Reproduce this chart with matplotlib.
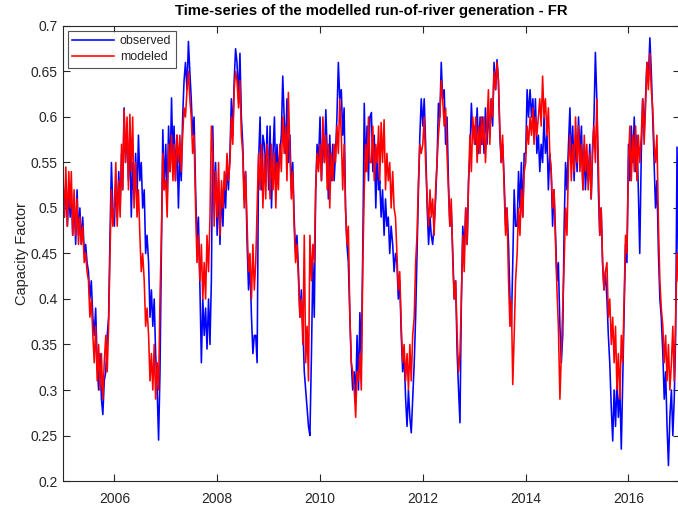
import datetime as dt

import matplotlib
matplotlib.use("Agg")
import matplotlib.pyplot as plt
import matplotlib.dates as mdates
from matplotlib.ticker import FuncFormatter, MultipleLocator

# capacity factor, three samples a month (1st, 11th, 21st)
first_year = 2005
observed = [
    [0.51, 0.49, 0.53, 0.48, 0.52, 0.49, 0.52, 0.47, 0.51, 0.46, 0.52, 0.47, 0.50, 0.46, 0.49, 0.45, 0.46, 0.44,
     0.43, 0.40, 0.42, 0.38, 0.36, 0.39, 0.33, 0.30, 0.34, 0.29, 0.273, 0.31, 0.32, 0.36, 0.38, 0.47, 0.55, 0.50],
    [0.48, 0.53, 0.49, 0.54, 0.50, 0.56, 0.52, 0.61, 0.55, 0.59, 0.53, 0.58, 0.49, 0.55, 0.51, 0.56, 0.51, 0.58,
     0.53, 0.55, 0.50, 0.52, 0.45, 0.47, 0.44, 0.38, 0.41, 0.37, 0.40, 0.34, 0.30, 0.245, 0.32, 0.45, 0.586, 0.52],
    [0.57, 0.51, 0.59, 0.54, 0.621, 0.55, 0.59, 0.53, 0.58, 0.50, 0.56, 0.53, 0.60, 0.64, 0.66, 0.63, 0.683, 0.65,
     0.62, 0.58, 0.60, 0.52, 0.46, 0.49, 0.41, 0.33, 0.40, 0.36, 0.39, 0.345, 0.40, 0.35, 0.42, 0.59, 0.50, 0.55],
    [0.47, 0.53, 0.46, 0.52, 0.48, 0.53, 0.50, 0.55, 0.52, 0.56, 0.62, 0.58, 0.64, 0.675, 0.66, 0.62, 0.67, 0.60,
     0.57, 0.51, 0.54, 0.46, 0.41, 0.44, 0.38, 0.34, 0.36, 0.36, 0.33, 0.55, 0.60, 0.52, 0.58, 0.57, 0.53, 0.59],
    [0.52, 0.59, 0.50, 0.56, 0.60, 0.52, 0.57, 0.54, 0.56, 0.58, 0.645, 0.60, 0.56, 0.62, 0.55, 0.58, 0.52, 0.55,
     0.49, 0.45, 0.47, 0.43, 0.38, 0.41, 0.37, 0.32, 0.30, 0.28, 0.26, 0.25, 0.34, 0.44, 0.38, 0.52, 0.57, 0.55],
    [0.60, 0.53, 0.58, 0.55, 0.608, 0.56, 0.51, 0.58, 0.53, 0.57, 0.53, 0.56, 0.60, 0.66, 0.62, 0.63, 0.58, 0.61,
     0.50, 0.46, 0.44, 0.38, 0.33, 0.30, 0.32, 0.29, 0.36, 0.30, 0.385, 0.33, 0.46, 0.615, 0.54, 0.59, 0.53, 0.60],
    [0.605, 0.54, 0.58, 0.50, 0.56, 0.52, 0.53, 0.49, 0.52, 0.47, 0.51, 0.48, 0.49, 0.45, 0.48, 0.46, 0.43, 0.45,
     0.44, 0.40, 0.42, 0.36, 0.32, 0.34, 0.29, 0.26, 0.30, 0.27, 0.253, 0.29, 0.33, 0.38, 0.45, 0.52, 0.58, 0.62],
    [0.59, 0.62, 0.57, 0.50, 0.46, 0.49, 0.47, 0.46, 0.48, 0.51, 0.55, 0.615, 0.60, 0.66, 0.62, 0.63, 0.57, 0.60,
     0.53, 0.48, 0.50, 0.45, 0.40, 0.42, 0.34, 0.30, 0.264, 0.40, 0.48, 0.45, 0.50, 0.46, 0.53, 0.56, 0.615, 0.58],
    [0.59, 0.57, 0.61, 0.56, 0.60, 0.57, 0.60, 0.56, 0.61, 0.57, 0.608, 0.58, 0.62, 0.59, 0.66, 0.63, 0.663, 0.64,
     0.58, 0.55, 0.57, 0.53, 0.48, 0.50, 0.46, 0.40, 0.37, 0.44, 0.52, 0.48, 0.48, 0.54, 0.50, 0.55, 0.49, 0.56],
    [0.56, 0.63, 0.60, 0.63, 0.60, 0.62, 0.58, 0.62, 0.56, 0.58, 0.54, 0.57, 0.55, 0.60, 0.56, 0.58, 0.52, 0.56,
     0.54, 0.48, 0.52, 0.47, 0.42, 0.44, 0.37, 0.33, 0.36, 0.48, 0.55, 0.52, 0.57, 0.61, 0.55, 0.59, 0.53, 0.58],
    [0.54, 0.60, 0.56, 0.59, 0.52, 0.57, 0.52, 0.55, 0.53, 0.57, 0.51, 0.56, 0.60, 0.671, 0.62, 0.52, 0.47, 0.50,
     0.44, 0.41, 0.43, 0.40, 0.36, 0.33, 0.28, 0.244, 0.30, 0.26, 0.31, 0.27, 0.30, 0.235, 0.31, 0.38, 0.46, 0.44],
    [0.57, 0.53, 0.59, 0.55, 0.60, 0.54, 0.58, 0.52, 0.45, 0.56, 0.62, 0.58, 0.62, 0.66, 0.64, 0.687, 0.65, 0.60,
     0.55, 0.50, 0.53, 0.45, 0.40, 0.38, 0.34, 0.29, 0.32, 0.26, 0.217, 0.27, 0.30, 0.25, 0.29, 0.36, 0.567, 0.42],
]
modeled = [
    [0.53, 0.49, 0.545, 0.48, 0.54, 0.50, 0.54, 0.47, 0.52, 0.47, 0.51, 0.46, 0.49, 0.46, 0.48, 0.44, 0.45, 0.43,
     0.42, 0.38, 0.40, 0.36, 0.33, 0.37, 0.31, 0.35, 0.30, 0.34, 0.29, 0.33, 0.36, 0.32, 0.37, 0.45, 0.52, 0.48],
    [0.50, 0.55, 0.48, 0.53, 0.49, 0.57, 0.52, 0.608, 0.55, 0.60, 0.52, 0.603, 0.54, 0.60, 0.50, 0.55, 0.49, 0.52,
     0.47, 0.43, 0.45, 0.42, 0.37, 0.39, 0.36, 0.31, 0.34, 0.30, 0.35, 0.29, 0.33, 0.30, 0.40, 0.47, 0.56, 0.52],
    [0.53, 0.49, 0.57, 0.54, 0.58, 0.53, 0.57, 0.53, 0.58, 0.55, 0.58, 0.54, 0.58, 0.61, 0.60, 0.63, 0.65, 0.62,
     0.60, 0.56, 0.58, 0.50, 0.44, 0.47, 0.42, 0.46, 0.40, 0.44, 0.40, 0.47, 0.43, 0.49, 0.59, 0.56, 0.48, 0.54],
    [0.49, 0.55, 0.47, 0.53, 0.50, 0.54, 0.52, 0.56, 0.53, 0.55, 0.60, 0.57, 0.63, 0.65, 0.64, 0.61, 0.64, 0.58,
     0.56, 0.50, 0.54, 0.48, 0.43, 0.45, 0.40, 0.46, 0.41, 0.44, 0.50, 0.56, 0.52, 0.57, 0.50, 0.56, 0.51, 0.57],
    [0.55, 0.51, 0.57, 0.52, 0.56, 0.50, 0.55, 0.52, 0.57, 0.54, 0.60, 0.56, 0.59, 0.53, 0.627, 0.56, 0.51, 0.54,
     0.48, 0.44, 0.46, 0.42, 0.38, 0.40, 0.35, 0.47, 0.33, 0.37, 0.31, 0.47, 0.42, 0.46, 0.44, 0.52, 0.56, 0.54],
    [0.57, 0.53, 0.60, 0.55, 0.58, 0.52, 0.57, 0.50, 0.56, 0.53, 0.57, 0.55, 0.59, 0.56, 0.62, 0.58, 0.52, 0.57,
     0.50, 0.46, 0.48, 0.38, 0.33, 0.32, 0.30, 0.27, 0.32, 0.31, 0.34, 0.30, 0.44, 0.52, 0.57, 0.54, 0.60, 0.55],
    [0.55, 0.59, 0.53, 0.57, 0.55, 0.59, 0.53, 0.594, 0.55, 0.597, 0.52, 0.56, 0.53, 0.55, 0.50, 0.54, 0.50, 0.49,
     0.45, 0.41, 0.43, 0.37, 0.33, 0.35, 0.31, 0.34, 0.30, 0.35, 0.31, 0.36, 0.38, 0.44, 0.47, 0.53, 0.57, 0.56],
    [0.57, 0.60, 0.55, 0.51, 0.48, 0.52, 0.49, 0.51, 0.47, 0.52, 0.55, 0.58, 0.60, 0.64, 0.62, 0.59, 0.61, 0.56,
     0.52, 0.48, 0.51, 0.44, 0.40, 0.42, 0.36, 0.32, 0.34, 0.40, 0.47, 0.43, 0.50, 0.46, 0.53, 0.58, 0.54, 0.60],
    [0.57, 0.60, 0.55, 0.59, 0.56, 0.60, 0.57, 0.60, 0.55, 0.59, 0.63, 0.57, 0.62, 0.60, 0.65, 0.63, 0.66, 0.64,
     0.59, 0.55, 0.58, 0.52, 0.47, 0.50, 0.42, 0.37, 0.40, 0.306, 0.36, 0.42, 0.45, 0.50, 0.47, 0.52, 0.49, 0.54],
    [0.55, 0.59, 0.57, 0.60, 0.58, 0.61, 0.57, 0.60, 0.58, 0.60, 0.62, 0.59, 0.645, 0.60, 0.62, 0.58, 0.61, 0.56,
     0.54, 0.50, 0.52, 0.46, 0.41, 0.37, 0.29, 0.34, 0.39, 0.44, 0.50, 0.47, 0.55, 0.58, 0.53, 0.57, 0.54, 0.60],
    [0.55, 0.59, 0.54, 0.57, 0.52, 0.58, 0.54, 0.57, 0.52, 0.56, 0.51, 0.57, 0.59, 0.55, 0.62, 0.55, 0.47, 0.50,
     0.44, 0.41, 0.43, 0.44, 0.38, 0.40, 0.35, 0.38, 0.33, 0.37, 0.30, 0.34, 0.29, 0.36, 0.33, 0.40, 0.47, 0.45],
    [0.55, 0.59, 0.53, 0.58, 0.54, 0.59, 0.53, 0.58, 0.55, 0.58, 0.62, 0.57, 0.61, 0.66, 0.63, 0.67, 0.63, 0.61,
     0.57, 0.55, 0.58, 0.48, 0.42, 0.39, 0.37, 0.33, 0.36, 0.31, 0.35, 0.30, 0.33, 0.37, 0.31, 0.38, 0.45, 0.42],
]


def to_series(rows, start_year):
    """Flatten yearly rows into (dates, values), samples on days 1, 11, 21 of each month."""
    dates, vals = [], []
    for k, row in enumerate(rows):
        for i, v in enumerate(row):
            dates.append(dt.date(start_year + k, i // 3 + 1, 1 + 10 * (i % 3)))
            vals.append(v)
    return dates, vals


plt.rcParams["font.family"] = ["Liberation Sans", "DejaVu Sans"]
dark = "#262626"

fig = plt.figure(figsize=(6.78, 5.11), dpi=100)
ax = fig.add_axes([63 / 678, 1 - 481 / 511, 617 / 678, 455 / 511])

d_obs, v_obs = to_series(observed, first_year)
d_mod, v_mod = to_series(modeled, first_year)
ax.plot(d_obs, v_obs, color="#0000ff", lw=1.15, label="observed")
ax.plot(d_mod, v_mod, color="#ff0000", lw=1.15, label="modeled")

ax.set_xlim(dt.date(2005, 1, 1), dt.date(2017, 1, 1))
ax.set_ylim(0.2, 0.7)
ax.xaxis.set_major_locator(mdates.YearLocator(2))
ax.xaxis.set_major_formatter(mdates.DateFormatter("%Y"))
ax.yaxis.set_major_locator(MultipleLocator(0.05))
ax.yaxis.set_major_formatter(FuncFormatter(lambda v, p: f"{v:g}"))

ax.tick_params(direction="in", top=True, right=True, length=5, width=0.8,
               colors=dark, labelsize=10)
ax.tick_params(axis="x", pad=8)
ax.tick_params(axis="y", pad=4)
for s in ax.spines.values():
    s.set_color(dark)
    s.set_linewidth(0.8)

ax.set_ylabel("Capacity Factor", fontsize=10.5, color=dark, labelpad=1)
ax.set_title("Time-series of the modelled run-of-river generation - FR",
             fontsize=10.7, fontweight="bold", color="black", pad=8)

leg = ax.legend(loc="upper left", bbox_to_anchor=(0.008, 0.989), borderaxespad=0,
                fontsize=9, handlelength=3.3, frameon=True, fancybox=False,
                borderpad=0.35, labelspacing=0.3, handletextpad=0.5)
leg.get_frame().set_edgecolor(dark)
leg.get_frame().set_linewidth(0.8)
for t in leg.get_texts():
    t.set_color(dark)

fig.savefig("out.png", dpi=100)
